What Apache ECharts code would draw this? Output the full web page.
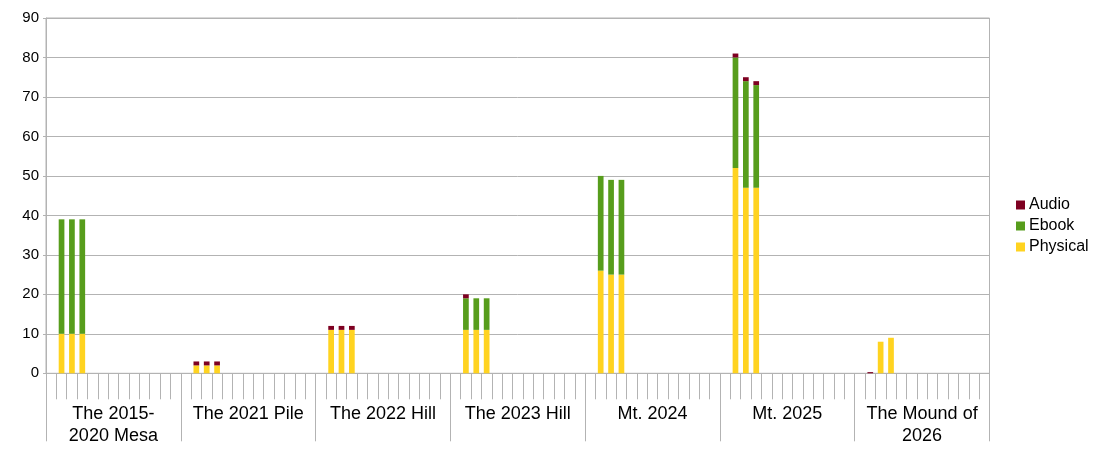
<!DOCTYPE html>
<html>
<head>
<meta charset="utf-8">
<script src="https://cdn.jsdelivr.net/npm/echarts@6/dist/echarts.min.js"></script>
<style>
html,body{margin:0;padding:0;background:#fff;}
#chart{width:1100px;height:454px;}
</style>
</head>
<body>
<div id="chart"></div>
<script>
// Group labels (x-axis, outer level)
const groupLabels = ["The 2015-\n2020 Mesa", "The 2021 Pile", "The 2022 Hill", "The 2023 Hill", "Mt. 2024", "Mt. 2025", "The Mound of\n2026"];
const slotsPerGroup = 13;   // inner category slots in each group
const firstSlot = 1;        // bars start at the second slot of each group
// Values per group (three bars each)
const physical = [[10,10,10],[2,2,2],[11,11,11],[11,11,11],[26,25,25],[52,47,47],[0,8,9]];
const ebook    = [[29,29,29],[0,0,0],[0,0,0],[8,8,8],[24,24,24],[28,27,26],[0,0,0]];
const audio    = [[0,0,0],[1,1,1],[1,1,1],[1,0,0],[0,0,0],[1,1,1],[0.3,0,0]];
const yTicks = [0,10,20,30,40,50,60,70,80,90];

const slotNames = [];
groupLabels.forEach((g, gi) => {
  for (let s = 0; s < slotsPerGroup; s++) slotNames.push('g' + gi + 's' + s);
});
function expand(arr) {
  const out = [];
  arr.forEach(vals => {
    for (let s = 0; s < slotsPerGroup; s++) {
      const k = s - firstSlot;
      const v = (k >= 0 && k < vals.length) ? vals[k] : null;
      out.push(v ? v : null);
    }
  });
  return out;
}

const grey = '#b3b3b3';
const font = 'Liberation Sans, Arial, sans-serif';
const chart = echarts.init(document.getElementById('chart'));
chart.setOption({
  animation: false,
  grid: { left: 46, right: 110.5, top: 18, bottom: 80.7, show: true, borderColor: grey, borderWidth: 1, backgroundColor: 'transparent' },
  legend: {
    orient: 'vertical', left: 1011, top: 192,
    itemWidth: 9, itemHeight: 9, itemGap: 5,
    icon: 'rect',
    data: ['Audio', 'Ebook', 'Physical'],
    textStyle: { fontFamily: font, fontSize: 16, color: '#000', padding: [0,0,0,-1] }
  },
  xAxis: [
    {
      type: 'category', data: slotNames, position: 'bottom',
      axisLine: { show: true, lineStyle: { color: grey, width: 1 } },
      axisTick: { show: true, interval: 0, length: 26, lineStyle: { color: grey, width: 1 } },
      axisLabel: { show: false },
      splitLine: { show: false }
    },
    {
      type: 'category', data: groupLabels, position: 'bottom',
      axisLine: { show: false },
      axisTick: { show: true, interval: 0, length: 68, lineStyle: { color: grey, width: 1 } },
      axisLabel: { show: true, interval: 0, margin: 30, fontFamily: font, fontSize: 18, lineHeight: 22, color: '#000' },
      splitLine: { show: false }
    }
  ],
  yAxis: {
    type: 'value', min: yTicks[0], max: yTicks[yTicks.length - 1], interval: 10,
    axisLine: { show: true, lineStyle: { color: grey, width: 1 } },
    axisTick: { show: true, length: 3, lineStyle: { color: grey } },
    axisLabel: { margin: 7, fontFamily: font, fontSize: 15, color: '#000' },
    splitLine: { show: true, lineStyle: { color: grey, width: 1 } }
  },
  series: [
    { name: 'Physical', type: 'bar', stack: 'total', barWidth: '55%', data: expand(physical), itemStyle: { color: '#ffd320' } },
    { name: 'Ebook', type: 'bar', stack: 'total', barWidth: '55%', data: expand(ebook), itemStyle: { color: '#579d1c' } },
    { name: 'Audio', type: 'bar', stack: 'total', barWidth: '55%', data: expand(audio), itemStyle: { color: '#7e0021' } }
  ]
});
</script>
</body>
</html>
